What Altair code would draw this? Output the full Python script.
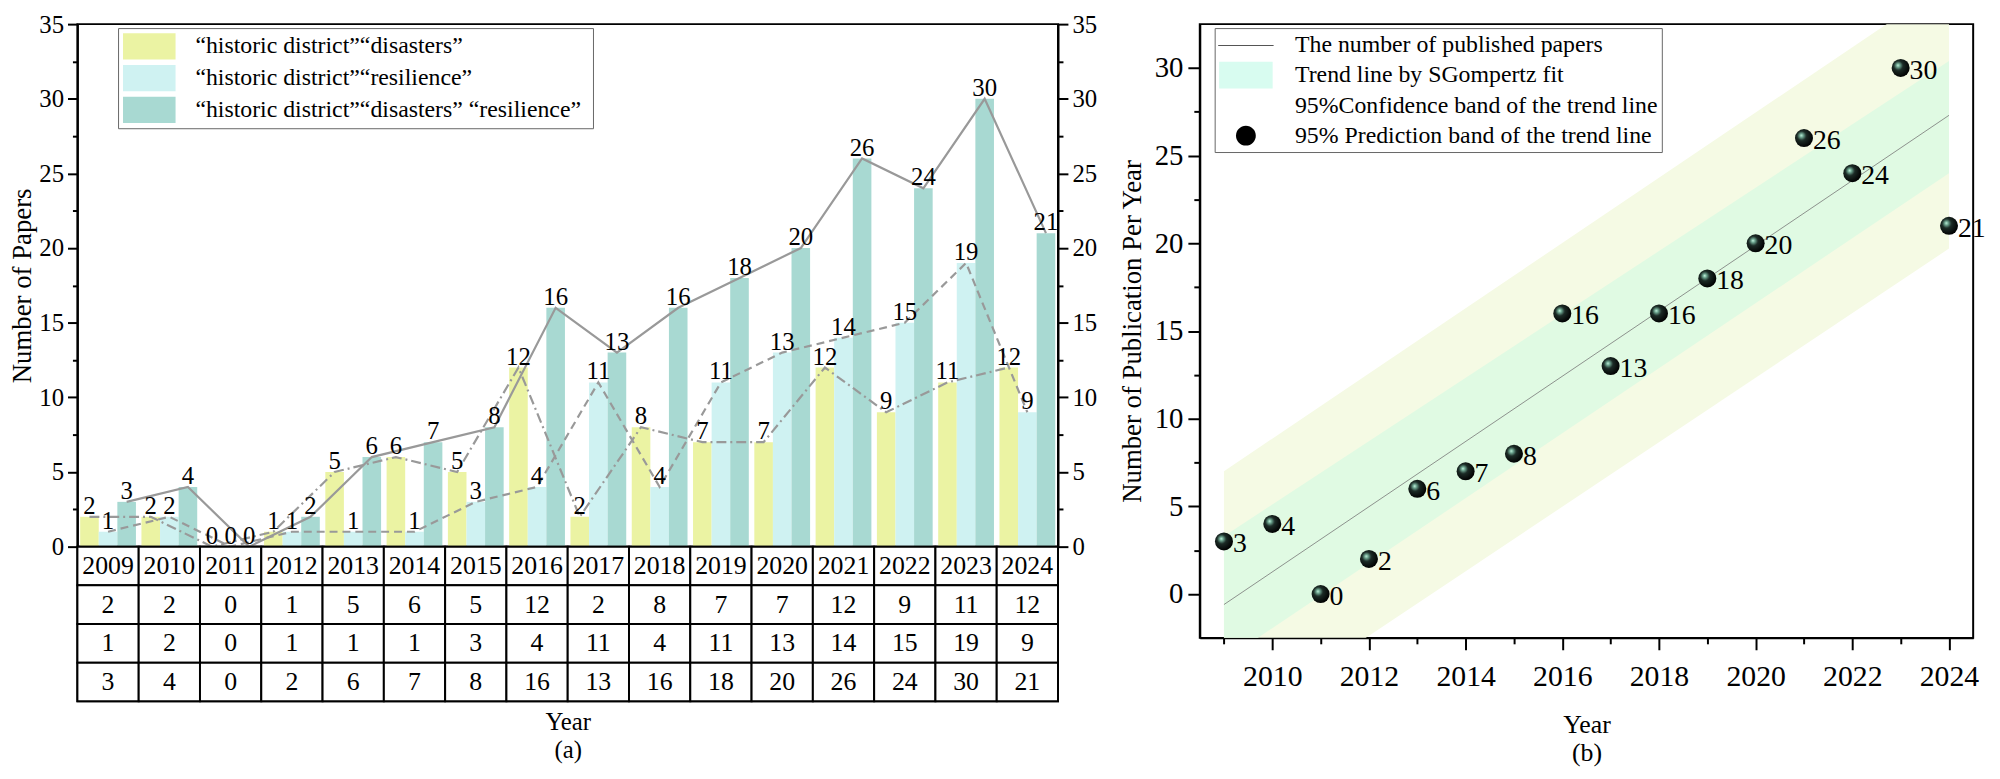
import altair as alt
import pandas as pd

FONT = "Liberation Serif"

# ---------------- data (a) ----------------
years = [str(y) for y in range(2009, 2025)]
disasters = [2, 2, 0, 1, 5, 6, 5, 12, 2, 8, 7, 7, 12, 9, 11, 12]
resilience = [1, 2, 0, 1, 1, 1, 3, 4, 11, 4, 11, 13, 14, 15, 19, 9]
combined = [3, 4, 0, 2, 6, 7, 8, 16, 13, 16, 18, 20, 26, 24, 30, 21]
series_names = [
    "\u201chistoric district\u201d\u201cdisasters\u201d",
    "\u201chistoric district\u201d\u201cresilience\u201d",
    "\u201chistoric district\u201d\u201cdisasters\u201d  \u201cresilience\u201d",
]
series_colors = ["#ebf3a3", "#cff2f2", "#a8d9d2"]

# ---------------- data (b) ----------------
point_years = list(range(2009, 2025))
point_counts = combined
band_years = [2009, 2024]
trend_fit = [-0.6, 27.3]
conf_lo = [-3.8, 24.0]
conf_hi = [3.3, 30.4]
pred_lo = [-7.9, 19.7]
pred_hi = [7.0, 34.9]
legend_b_labels = [
    "The number of published papers",
    "Trend line by SGompertz fit",
    "95%Confidence band of the trend line",
    "95% Prediction band of the trend line",
]
legend_b_colors = ["#555555", "#d8fcf0", "transparent", "#000000"]
legend_b_shapes = [
    "M-2.07,-0.04H2.07V0.04H-2.07Z",
    "M-2,-1H2V1H-2Z",
    "M0,0",
    "M-0.74,0A0.74,0.74 0 1,0 0.74,0A0.74,0.74 0 1,0 -0.74,0Z",
]

# ---------------- tables ----------------
rows = []
for i, yr in enumerate(years):
    for s, vals in zip(series_names, [disasters, resilience, combined]):
        rows.append({"year": yr, "series": s, "value": vals[i]})
df = pd.DataFrame(rows)

row_keys = ["yr", "d", "r", "c"]
trows = []
for i, yr in enumerate(years):
    for k, v in zip(row_keys, [yr, disasters[i], resilience[i], combined[i]]):
        trows.append({"year": yr, "row": k, "txt": str(v)})
tdf = pd.DataFrame(trows)

def cond(test, big, small):
    return {"condition": {"test": test, "value": big}, "value": small}

major5 = "datum.value % 5 === 0"
left_vals = [i * 2.5 for i in range(15)]

xenc = alt.X("year:N", sort=years, scale=alt.Scale(paddingInner=0.09, paddingOuter=0.045), axis=None)
xoff = alt.XOffset("series:N", sort=series_names,
                   scale=alt.Scale(domain=series_names, paddingInner=0, paddingOuter=0))
yscale = alt.Scale(domain=[0, 35], nice=False, zero=True)

yaxis_l = alt.Axis(orient="left", values=left_vals, labelExpr=f"{major5} ? datum.label : ''",
                   tickSize=cond(major5, 10, 5), labelFontSize=25, labelPadding=4,
                   title="Number of Papers", titleFontSize=27, titlePadding=2,
                   grid=False)
yaxis_r = alt.Axis(orient="right", values=left_vals, labelExpr=f"{major5} ? datum.label : ''",
                   tickSize=cond(major5, 10, 5), labelFontSize=25, labelPadding=4,
                   title=None, grid=False)

legend_a = alt.Legend(orient="none", legendX=41, legendY=4, title=None,
                      symbolType="M-2,-1H2V1H-2Z", symbolSize=702, symbolOffset=13,
                      symbolStrokeWidth=0, labelFontSize=24, labelFont=FONT,
                      labelOffset=33, rowPadding=5, padding=5,
                      strokeColor="#666666", fillColor="white", labelLimit=600)

bars = alt.Chart(df).mark_bar().encode(
    x=xenc, xOffset=xoff,
    y=alt.Y("value:Q", scale=yscale, axis=yaxis_l),
    color=alt.Color("series:N", sort=series_names,
                    scale=alt.Scale(domain=series_names, range=series_colors), legend=legend_a),
)

line_layers = []
dashes = {series_names[0]: [10, 4, 2, 4], series_names[1]: [8, 5], series_names[2]: None}
for s in series_names:
    kw = dict(color="#999999", strokeWidth=2.2)
    if dashes[s]:
        kw["strokeDash"] = dashes[s]
    line_layers.append(
        alt.Chart(df[df.series == s]).mark_line(**kw).encode(
            x=xenc, xOffset=xoff, y=alt.Y("value:Q", scale=yscale, axis=None))
    )

labels_a = alt.Chart(df).mark_text(font=FONT, fontSize=25, baseline="alphabetic", dy=-3, color="black").encode(
    x=xenc, xOffset=xoff,
    y=alt.Y("value:Q", scale=yscale, axis=yaxis_r),
    text="value:Q",
)

top_a = alt.layer(bars, *line_layers, labels_a).resolve_axis(y="independent").properties(width=989, height=527)

tx = alt.X("year:N", sort=years, scale=alt.Scale(paddingInner=0, paddingOuter=0),
           axis=alt.Axis(title=["Year", "(a)"], labels=False, ticks=False, domain=False,
                         titleFontSize=25, titleLineHeight=29, titlePadding=8))
ty = alt.Y("row:N", sort=row_keys, axis=None)
cells = alt.Chart(tdf).mark_rect(fill="white", stroke="black", strokeWidth=2).encode(x=tx, y=ty)
ctext = alt.Chart(tdf).mark_text(font=FONT, fontSize=26, color="black").encode(x=tx, y=ty, text="txt:N")
table_a = alt.layer(cells, ctext).properties(width=989, height=156)

panel_a = alt.vconcat(top_a, table_a, spacing=0).properties(bounds="flush").resolve_scale(x="independent")

# ---------------- panel (b) ----------------
bdf = pd.DataFrame({"year": band_years, "fit": trend_fit, "clo": conf_lo, "chi": conf_hi,
                    "plo": pred_lo, "phi": pred_hi})
pdf = pd.DataFrame({"year": point_years, "n": point_counts})
ldf = pd.DataFrame({"lab": legend_b_labels})

xs = alt.Scale(domain=[2008.5, 2024.5], nice=False, zero=False)
ys = alt.Scale(domain=[-2.5, 32.5], nice=False, zero=False)
major2 = "datum.value % 2 === 0"
xaxis_b = alt.Axis(values=point_years, format="d", labelExpr=f"{major2} ? datum.label : ''",
                   tickSize=cond(major2, 12, 6), labelFontSize=30, labelPadding=12,
                   title=["Year", "(b)"], titleFontSize=26, titleLineHeight=29, titlePadding=20,
                   grid=False)
yaxis_b = alt.Axis(values=[i * 2.5 for i in range(13)], labelExpr=f"{major5} ? datum.label : ''",
                   tickSize=cond(major5, 12, 6), labelFontSize=29, labelPadding=5,
                   title="Number of Publication Per Year", titleFontSize=27, titlePadding=8, grid=False)

pred = alt.Chart(bdf).mark_area(color="#f5fae4", clip=True).encode(
    x=alt.X("year:Q", scale=xs, axis=xaxis_b),
    y=alt.Y("plo:Q", scale=ys, axis=yaxis_b), y2="phi:Q")
conf = alt.Chart(bdf).mark_area(color="#e0fae3", clip=True).encode(
    x=alt.X("year:Q", scale=xs), y=alt.Y("clo:Q", scale=ys), y2="chi:Q")
fit = alt.Chart(bdf).mark_line(color="#777777", strokeWidth=0.8, clip=True).encode(
    x=alt.X("year:Q", scale=xs), y=alt.Y("fit:Q", scale=ys))

ball = alt.RadialGradient(
    gradient="radial", x1=0.35, y1=0.35, r1=0, x2=0.4, y2=0.4, r2=0.62,
    stops=[alt.GradientStop(color="#c8f5e0", offset=0),
           alt.GradientStop(color="#6fa892", offset=0.16),
           alt.GradientStop(color="#1c2b26", offset=0.42),
           alt.GradientStop(color="#000000", offset=1)])
pts = alt.Chart(pdf).mark_point(shape="circle", filled=True, fill=ball, strokeWidth=0, size=330, opacity=1).encode(
    x=alt.X("year:Q", scale=xs), y=alt.Y("n:Q", scale=ys))
plab = alt.Chart(pdf).mark_text(font=FONT, fontSize=28, align="left", baseline="middle", dx=9, dy=3, color="black").encode(
    x=alt.X("year:Q", scale=xs), y=alt.Y("n:Q", scale=ys), text="n:Q")

legend_b = alt.Legend(orient="none", legendX=15, legendY=4, title=None,
                      symbolSize=729, symbolOffset=14, symbolStrokeWidth=0, symbolOpacity=1,
                      labelFontSize=24, labelFont=FONT, labelOffset=36, rowPadding=4, padding=4,
                      strokeColor="#666666", fillColor="white", labelLimit=600)
legend_layer = alt.Chart(ldf).mark_point(filled=True, opacity=0, size=10).encode(
    color=alt.Color("lab:N", sort=legend_b_labels,
                    scale=alt.Scale(domain=legend_b_labels, range=legend_b_colors), legend=legend_b),
    shape=alt.Shape("lab:N", sort=legend_b_labels,
                    scale=alt.Scale(domain=legend_b_labels, range=legend_b_shapes), legend=legend_b),
)

panel_b = alt.layer(pred, conf, fit, pts, plab, legend_layer).properties(width=780, height=619)

chart = alt.hconcat(panel_a, panel_b, spacing=20).resolve_scale(
    color="independent", shape="independent", x="independent", y="independent"
).configure(
    font=FONT, padding={"left": 0, "top": 0, "right": 5, "bottom": 0}
).configure_view(
    stroke="black", strokeWidth=2
).configure_axis(
    labelFont=FONT, titleFont=FONT, labelColor="black", titleColor="black",
    domainColor="black", domainWidth=2, tickColor="black", tickWidth=2,
    titleFontWeight="normal"
)

chart.save("out.html", embed_options={"renderer": "svg", "actions": False})
